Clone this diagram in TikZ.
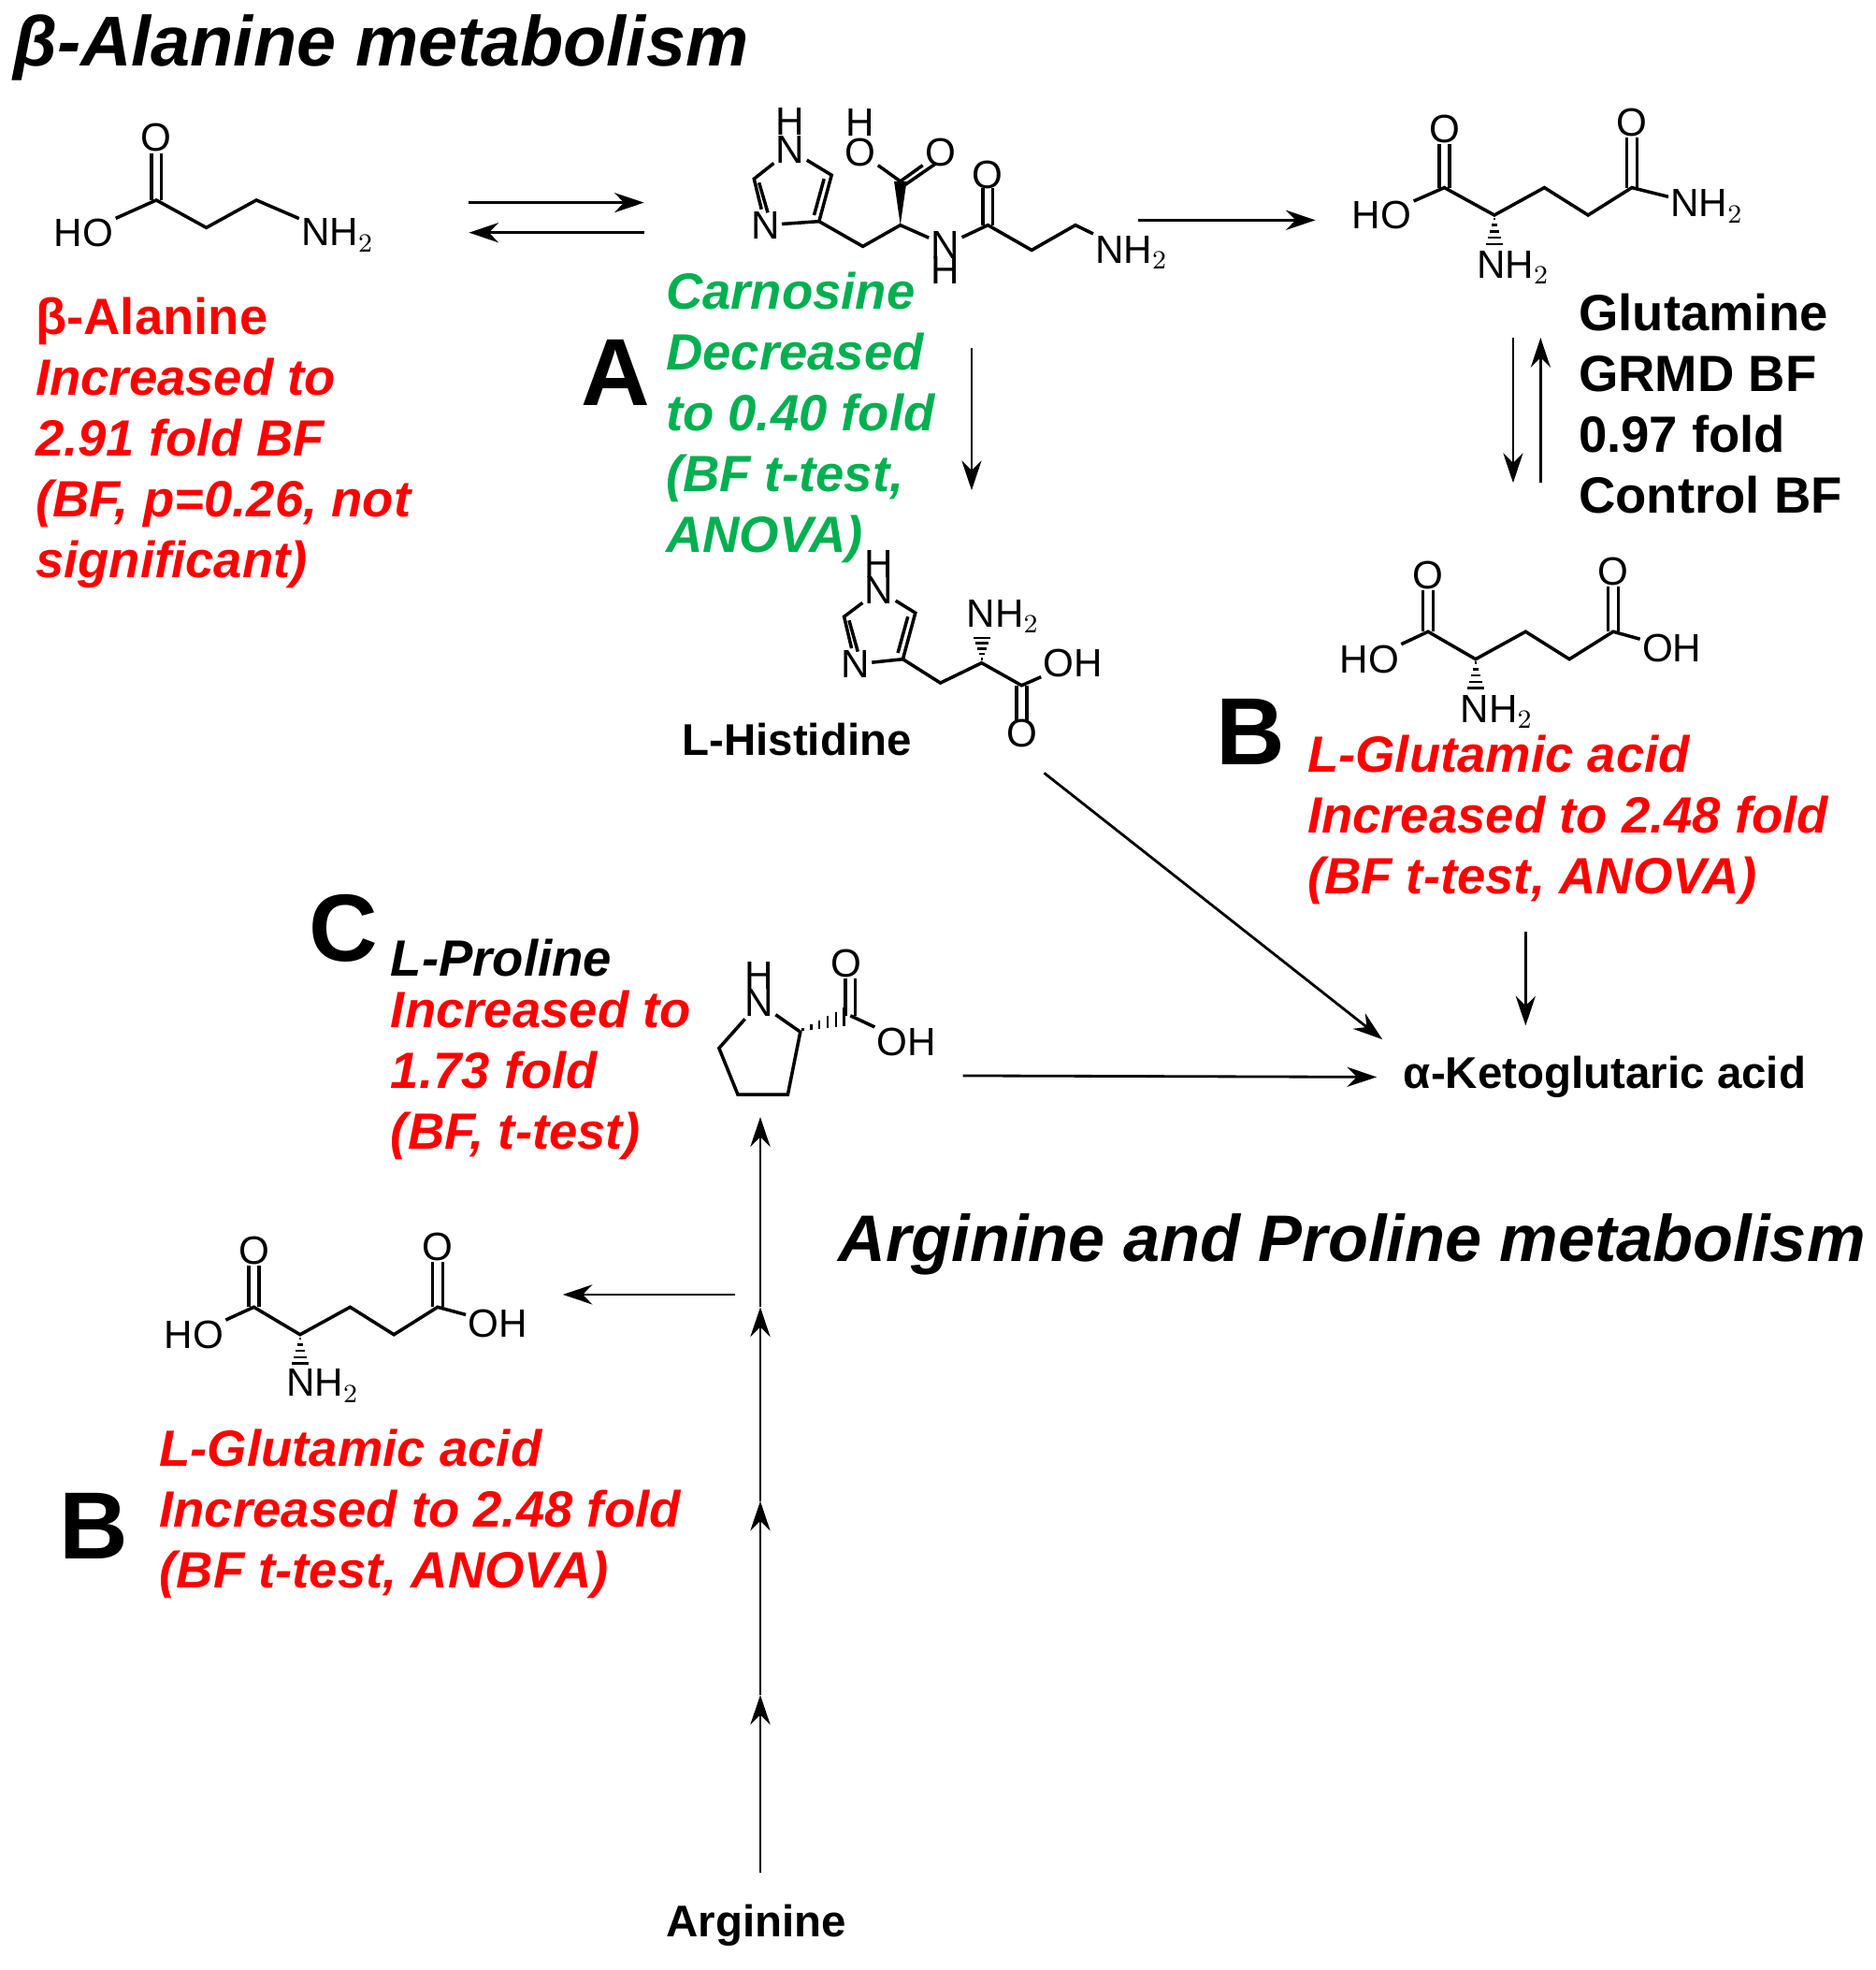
\documentclass[tikz,border=0pt]{standalone}
\usepackage{fontspec}
\setmainfont{Liberation Sans}
\usetikzlibrary{positioning, arrows.meta}
\definecolor{hitred}{RGB}{255,0,0}
\definecolor{hitgreen}{RGB}{0,176,80}
\tikzset{
  bond/.style={line width=1pt},
  rxn/.style={-{Stealth[length=9pt,width=6pt]}, line width=0.8pt},
  atom/.style={font=\fontsize{12}{13}\selectfont, inner sep=0.5pt},
  cmpd/.style={font=\bfseries\fontsize{15.5}{18.5}\selectfont, align=left, anchor=north west, inner sep=0pt},
  hit/.style={cmpd, font=\bfseries\itshape\fontsize{15.5}{18.5}\selectfont},
  tag/.style={font=\bfseries\fontsize{29}{30}\selectfont, inner sep=0pt},
  pathway/.style={font=\bfseries\itshape\fontsize{21.5}{24}\selectfont, anchor=west, inner sep=0pt}
}
% hashed wedge: x, narrow y, wide y
\newcommand\hashv[3]{\foreach \k in {0,...,4}{%
  \pgfmathsetmacro\yy{#2+(#3-#2)*\k/4}\pgfmathsetmacro\ww{0.8+\k*1.5}%
  \draw[line width=0.7pt] (#1-\ww,\yy)--(#1+\ww,\yy);}}
\begin{document}
\begin{tikzpicture}[x=0.01337cm, y=-0.01337cm]
\useasboundingbox (0,0) rectangle (1500,1575);

% titles
\node[pathway] (ala) at (10,38) {β-Alanine metabolism};
\node[pathway, font=\bfseries\itshape\fontsize{20}{24}\selectfont] (arg) at (670,995) {Arginine and Proline metabolism};

% beta-alanine
\node[atom] (a1) at (67,186) {HO};
\node[atom] (a2) at (125,110) {O};
\node[atom] (a3) at (270,188) {NH$_2$};
\draw[bond] (a1) -- (125,160) -- (165,182) -- (205,160) -- (a3);
\draw[bond] (121,160) -- (a2.south -| 121,0); \draw[bond] (129,160) -- (a2.south -| 129,0);
\node[hit, text=hitred] (alaL) at (28,237) {\upshape β-Alanine\\Increased to\\2.91 fold BF\\(BF, p=0.26, not\\significant)};

% carnosine
\node[atom] (c1) at (632,120) {N}; \node[atom] at (632,97) {H};
\node[atom] (c2) at (612,180) {N};
\node[atom] (c3) at (688,122) {O}; \node[atom] at (688,98) {H};
\node[atom] (c4) at (752,122) {O};
\node[atom] (c5) at (756,196) {N}; \node[atom] at (756,216) {H};
\node[atom] (c6) at (790,140) {O};
\node[atom] (c7) at (905,202) {NH$_2$};
\draw[bond] (c1) -- (665,140) -- (655,177) -- (c2) -- (603,143) -- (c1);
\draw[bond] (659,143) -- (651,172); \draw[bond] (607,146) -- (614,170);
\draw[bond] (655,177) -- (690,197) -- (720,180) -- (c5) -- (790,180) -- (825,200) -- (860,180) -- (c7);
\fill (720,180) -- (715,145) -- (725,145) -- cycle;
\draw[bond] (720,145) -- (c3); \draw[bond] (720,145) -- (c4); \draw[bond] (722,149) -- (748,131);
\draw[bond] (786,180) -- (786,150); \draw[bond] (794,180) -- (794,150);
\node[hit, text=hitgreen] (carL) at (532,217) {Carnosine\\Decreased\\to 0.40 fold\\(BF t-test,\\ANOVA)};
\node[tag] (tA) at (492,298) {A};

% glutamine
\node[atom] (g1) at (1105,172) {HO};
\node[atom] (g2) at (1155,103) {O};
\node[atom] (g3) at (1210,214) {NH$_2$};
\node[atom] (g4) at (1305,98) {O};
\node[atom] (g5) at (1365,165) {NH$_2$};
\draw[bond] (g1) -- (1155,150) -- (1195,172) -- (1235,150) -- (1270,172) -- (1305,150) -- (g5);
\draw[bond] (1151,150) -- (1151,115); \draw[bond] (1159,150) -- (1159,115);
\draw[bond] (1301,150) -- (1301,110); \draw[bond] (1309,150) -- (1309,110);
\hashv{1195}{175}{195}
\node[cmpd] (glnL) at (1262,234) {Glutamine\\GRMD BF\\0.97 fold\\Control BF};

% histidine
\node[atom] (h1) at (703,472) {N}; \node[atom] at (703,451) {H};
\node[atom] (h2) at (684,531) {N};
\node[atom] (h3) at (802,493) {NH$_2$};
\node[atom] (h4) at (858,530) {OH};
\node[atom] (h5) at (817,586) {O};
\draw[bond] (h1) -- (732,490) -- (722,527) -- (h2) -- (675,493) -- (h1);
\draw[bond] (726,493) -- (718,522); \draw[bond] (679,496) -- (686,521);
\draw[bond] (722,527) -- (752,546) -- (785,530) -- (817,548) -- (h4);
\draw[bond] (813,548) -- (813,576); \draw[bond] (821,548) -- (821,576);
\hashv{785}{527}{510}
\node[cmpd, font=\bfseries\fontsize{13.5}{16}\selectfont] (hisL) at (545,578) {L-Histidine};

% glutamic acid (right)
\node[atom] (e1) at (1095,527) {HO};
\node[atom] (e2) at (1142,460) {O};
\node[atom] (e3) at (1197,569) {NH$_2$};
\node[atom] (e4) at (1290,457) {O};
\node[atom] (e5) at (1337,518) {OH};
\draw[bond] (e1) -- (1142,505) -- (1180,527) -- (1220,505) -- (1255,527) -- (1290,505) -- (e5);
\draw[bond] (1138,505) -- (1138,472); \draw[bond] (1146,505) -- (1146,472);
\draw[bond] (1286,505) -- (1286,469); \draw[bond] (1294,505) -- (1294,469);
\hashv{1180}{530}{550}
\node[tag] (tB1) at (1000,585) {B};
\node[hit, text=hitred] (gluR) at (1045,587) {L-Glutamic acid\\Increased to 2.48 fold\\(BF t-test, ANOVA)};

% proline
\node[atom] (p1) at (607,802) {N}; \node[atom] at (607,780) {H};
\node[atom] (p2) at (677,770) {O};
\node[atom] (p3) at (725,833) {OH};
\draw[bond] (p1) -- (640,825) -- (630,875) -- (590,875) -- (575,838) -- (p1);
\foreach \k in {0,...,5}{\pgfmathsetmacro\xx{642+6.6*\k}\pgfmathsetmacro\ww{0.8+\k*1.3}
  \draw[line width=0.7pt] (\xx,823-\k*2-\ww) -- (\xx,823-\k*2+\ww);}
\draw[bond] (676,812) -- (676,782); \draw[bond] (684,812) -- (684,782);
\draw[bond] (680,812) -- (p3);
\node[tag] (tC) at (275,742) {C};
\node[hit] (proL) at (312,750) {L-Proline};
\node[hit, text=hitred, below=4pt of proL.south west, anchor=north west] (proH) {Increased to\\1.73 fold\\(BF, t-test)};

% glutamic acid (left)
\node[atom] (f1) at (155,1067) {HO};
\node[atom] (f2) at (203,1000) {O};
\node[atom] (f3) at (258,1108) {NH$_2$};
\node[atom] (f4) at (350,997) {O};
\node[atom] (f5) at (398,1058) {OH};
\draw[bond] (f1) -- (203,1045) -- (240,1067) -- (280,1045) -- (315,1067) -- (350,1045) -- (f5);
\draw[bond] (199,1045) -- (199,1012); \draw[bond] (207,1045) -- (207,1012);
\draw[bond] (346,1045) -- (346,1009); \draw[bond] (354,1045) -- (354,1009);
\hashv{240}{1070}{1090}
\node[tag] (tB2) at (75,1220) {B};
\node[hit, text=hitred] (gluL) at (127,1142) {L-Glutamic acid\\Increased to 2.48 fold\\(BF t-test, ANOVA)};

\node[cmpd, font=\bfseries\fontsize{13.5}{16}\selectfont] (kg) at (1122,844) {α-Ketoglutaric acid};
\node[cmpd, font=\bfseries\fontsize{13.5}{16}\selectfont, anchor=north] (argN) at (605,1522) {Arginine};

% reaction arrows
\coordinate (r1) at (375,162); \coordinate (r2) at (515,162);
\coordinate (r3) at (515,186); \coordinate (r4) at (375,186);
\draw[rxn] (r1) -- (r2); \draw[rxn] (r3) -- (r4);
\coordinate (r5) at (910,176); \coordinate (r6) at (1052,176);
\draw[rxn] (r5) -- (r6);
\coordinate (r7) at (777,278); \coordinate (r8) at (777,392);
\draw[rxn] (r7) -- (r8);
\coordinate (r9) at (1210,270); \coordinate (r10) at (1210,386);
\coordinate (r11) at (1232,386); \coordinate (r12) at (1232,270);
\draw[rxn] (r9) -- (r10); \draw[rxn] (r11) -- (r12);
\coordinate (r13) at (835,618);
\draw[rxn, shorten >=8pt] (r13) -- (kg.north west);
\coordinate (r14) at (1220,745); \coordinate (r15) at (1220,820);
\draw[rxn] (r14) -- (r15);
\coordinate (r16) at (770,860);
\draw[rxn, shorten >=8pt] (r16) -- (kg.west);
\coordinate (s0) at (608,1497); \coordinate (s1) at (608,1355);
\coordinate (s2) at (608,1200); \coordinate (s3) at (608,1045);
\coordinate (s4) at (608,893); \coordinate (s5) at (450,1035);
\coordinate (s6) at (588,1035);
\draw[rxn] (s0) -- (s1); \draw[rxn] (s1) -- (s2); \draw[rxn] (s2) -- (s3); \draw[rxn] (s3) -- (s4);
\draw[rxn] (s6) -- (s5);
\end{tikzpicture}
\end{document}
